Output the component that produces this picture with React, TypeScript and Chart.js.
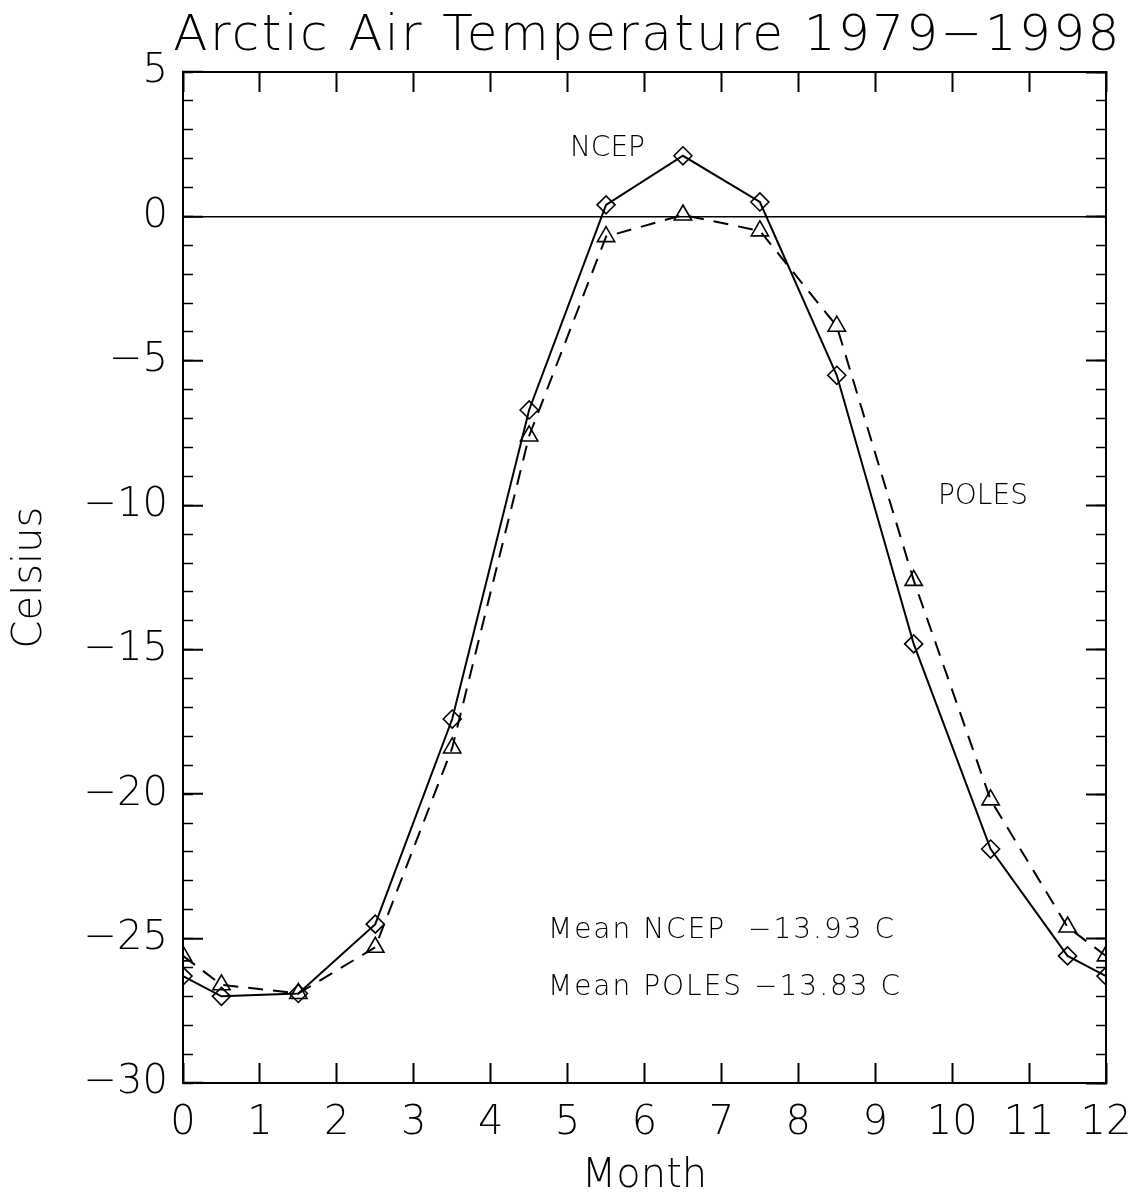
import React, { useEffect, useRef } from 'react';
import { Chart, registerables } from 'chart.js';

Chart.register(...registerables);

// ---- data ----
const MONTHS = [0, 0.5, 1.5, 2.5, 3.5, 4.5, 5.5, 6.5, 7.5, 8.5, 9.5, 10.5, 11.5, 12];
const NCEP = [-26.3, -27.0, -26.9, -24.5, -17.4, -6.7, 0.4, 2.1, 0.5, -5.5, -14.8, -21.9, -25.6, -26.3];
const POLES = [-25.6, -26.6, -26.9, -25.3, -18.4, -7.6, -0.7, 0.05, -0.5, -3.8, -12.6, -20.2, -24.6, -25.6];
const X_RANGE = [0, 12];
const Y_RANGE = [-30, 5];
const TITLE = 'Arctic Air Temperature 1979\u22121998';
const X_LABEL = 'Month';
const Y_LABEL = 'Celsius';
const NOTE_TEXTS = ['NCEP', 'POLES', 'Mean NCEP  \u221213.93 C', 'Mean POLES \u221213.83 C'];
const NOTE_X = [5.03, 9.815, 4.745, 4.745];
const NOTE_Y = [2.33, -9.71, -24.74, -26.71];

const FAMILY = '"DejaVu Sans", "Liberation Sans", sans-serif';
const WEIGHT = '200';

const fmt = (v: number) => (v < 0 ? '\u2212' + Math.abs(v) : String(v));

const annotations = {
  id: 'annotations',
  afterDraw(chart: any) {
    const ctx = chart.ctx;
    const xs = chart.scales.x;
    const ys = chart.scales.y;
    const area = chart.chartArea;
    ctx.save();
    ctx.fillStyle = '#000';
    // title
    ctx.font = `${WEIGHT} 50px ${FAMILY}`;
    (ctx as any).letterSpacing = '2.4px';
    ctx.textAlign = 'center';
    ctx.textBaseline = 'alphabetic';
    ctx.fillText(TITLE, (area.left + area.right) / 2 + 3, 50);
    // notes
    ctx.textAlign = 'left';
    ctx.textBaseline = 'middle';
    NOTE_TEXTS.forEach((t, i) => {
      const big = i < 2;
      ctx.font = `${WEIGHT} 28px ${FAMILY}`;
      (ctx as any).letterSpacing = big ? '0px' : '2px';
      ctx.fillText(t, xs.getPixelForValue(NOTE_X[i]), ys.getPixelForValue(NOTE_Y[i]));
    });
    ctx.restore();
  },
};

export default function App() {
  const ref = useRef<HTMLCanvasElement | null>(null);
  useEffect(() => {
    document.body.style.margin = '0';
    const canvas = ref.current;
    if (!canvas) return;
    const tickFont = { family: FAMILY, size: 40, weight: WEIGHT as any };
    const hiddenTicks = { display: false };
    const noSidePad = (s: any) => { s.paddingLeft = 0; s.paddingRight = 0; s.paddingTop = 0; s.paddingBottom = 0; };
    const chart = new Chart(canvas, {
      type: 'line',
      data: {
        datasets: [
          {
            label: 'NCEP',
            data: MONTHS.map((m, i) => ({ x: m, y: NCEP[i] })),
            borderColor: '#000',
            borderWidth: 2,
            pointStyle: 'rectRot',
            pointRadius: 9,
            pointBorderWidth: 1.6,
            pointBackgroundColor: 'rgba(0,0,0,0)',
            pointBorderColor: '#000',
            tension: 0,
            xAxisID: 'x',
            yAxisID: 'y',
          },
          {
            label: 'POLES',
            data: MONTHS.map((m, i) => ({ x: m, y: POLES[i] })),
            borderColor: '#000',
            borderWidth: 2,
            borderDash: [15, 10],
            pointStyle: 'triangle',
            pointRadius: 10,
            pointBorderWidth: 1.6,
            pointBackgroundColor: 'rgba(0,0,0,0)',
            pointBorderColor: '#000',
            tension: 0,
            xAxisID: 'x',
            yAxisID: 'y',
          },
        ],
      },
      options: {
        responsive: false,
        animation: false,
        devicePixelRatio: 1,
        layout: { padding: { top: 72, right: 32, left: 0, bottom: 0 } },
        plugins: { legend: { display: false }, title: { display: false }, tooltip: { enabled: false } },
        scales: {
          x: {
            type: 'linear',
            position: 'bottom',
            min: X_RANGE[0],
            max: X_RANGE[1],
            ticks: { stepSize: 1, color: '#000', font: tickFont, padding: 37, maxRotation: 0, autoSkip: false, callback: (v: any) => fmt(Number(v)) },
            grid: { drawOnChartArea: false, tickLength: -20, tickWidth: 2, tickColor: '#000' },
            border: { display: true, color: '#000', width: 2 },
            title: { display: true, text: X_LABEL, color: '#000', font: tickFont, padding: { top: 0, bottom: 0 } },
            afterFit: (s: any) => { s.height = 118; noSidePad(s); },
          },
          xTop: {
            type: 'linear',
            position: 'top',
            min: X_RANGE[0],
            max: X_RANGE[1],
            ticks: { stepSize: 1, ...hiddenTicks },
            grid: { drawOnChartArea: false, tickLength: -20, tickWidth: 2, tickColor: '#000' },
            border: { display: true, color: '#000', width: 2 },
            afterFit: (s: any) => { s.height = 0; noSidePad(s); },
          },
          y: {
            type: 'linear',
            position: 'left',
            weight: 1,
            min: Y_RANGE[0],
            max: Y_RANGE[1],
            ticks: { stepSize: 5, color: '#000', font: tickFont, padding: 35, callback: (v: any) => fmt(Number(v)) },
            grid: {
              drawOnChartArea: true,
              color: (c: any) => (c.tick && c.tick.value === 0 ? '#000' : 'rgba(0,0,0,0)'),
              lineWidth: 1.5,
              tickLength: -20,
              tickWidth: 2,
              tickColor: '#000',
            },
            border: { display: true, color: '#000', width: 2 },
            title: { display: true, text: Y_LABEL, color: '#000', font: tickFont, padding: { top: 7, bottom: 0 } },
            afterFit: (s: any) => { s.width = 183; noSidePad(s); },
          },
          yMinor: {
            type: 'linear',
            position: 'left',
            weight: 0,
            min: Y_RANGE[0],
            max: Y_RANGE[1],
            ticks: { stepSize: 1, ...hiddenTicks },
            grid: { drawOnChartArea: false, tickLength: -10, tickWidth: 1.5, tickColor: '#000' },
            border: { display: false },
            afterFit: (s: any) => { s.width = 0; noSidePad(s); },
          },
          yRight: {
            type: 'linear',
            position: 'right',
            weight: 1,
            min: Y_RANGE[0],
            max: Y_RANGE[1],
            ticks: { stepSize: 5, ...hiddenTicks },
            grid: { drawOnChartArea: false, tickLength: -20, tickWidth: 2, tickColor: '#000' },
            border: { display: true, color: '#000', width: 2 },
            afterFit: (s: any) => { s.width = 0; noSidePad(s); },
          },
          yRightMinor: {
            type: 'linear',
            position: 'right',
            weight: 0,
            min: Y_RANGE[0],
            max: Y_RANGE[1],
            ticks: { stepSize: 1, ...hiddenTicks },
            grid: { drawOnChartArea: false, tickLength: -10, tickWidth: 1.5, tickColor: '#000' },
            border: { display: false },
            afterFit: (s: any) => { s.width = 0; noSidePad(s); },
          },
        },
      } as any,
      plugins: [annotations],
    });
    return () => chart.destroy();
  }, []);
  return (
    <canvas
      ref={ref}
      width={1138}
      height={1201}
      style={{ display: 'block', width: 1138, height: 1201, background: '#fff' }}
    />
  );
}
